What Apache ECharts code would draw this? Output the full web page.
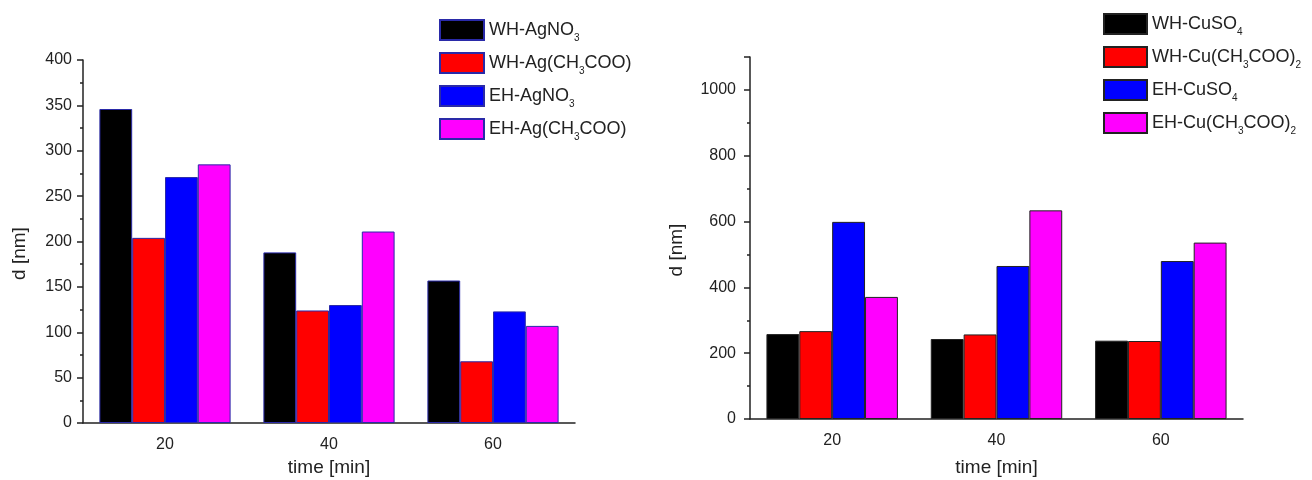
<!DOCTYPE html>
<html>
<head>
<meta charset="utf-8">
<script src="https://cdn.jsdelivr.net/npm/echarts@6/dist/echarts.min.js"></script>
<style>
  html, body { margin: 0; padding: 0; background: #fff; }
  #charts { width: 1312px; height: 480px; }
</style>
</head>
<body>
<div id="charts"></div>
<script>
  // categories (time, min)
  var times = ['20', '40', '60']

  // silver salts, d [nm]
  var agNames = ['WH-AgNO3', 'WH-Ag(CH3COO)', 'EH-AgNO3', 'EH-Ag(CH3COO)']
  var whAgNO3 = [346, 188, 157]
  var whAgAc = [204, 124, 68]
  var ehAgNO3 = [271, 130, 123]
  var ehAgAc = [285, 211, 107]

  // copper salts, d [nm]
  var cuNames = ['WH-CuSO4', 'WH-Cu(CH3COO)2', 'EH-CuSO4', 'EH-Cu(CH3COO)2']
  var whCuSO4 = [258, 243, 238]
  var whCuAc = [267, 257, 237]
  var ehCuSO4 = [599, 465, 480]
  var ehCuAc = [371, 634, 536]

  var colors = ['#000000', '#ff0000', '#0000ff', '#ff00ff']
  var font = 'Liberation Sans, Arial, sans-serif'
  var ink = '#222'

  // digits in formulas become subscripts
  function formula (name) {
    return '{n|' + name.replace(/(\d)/g, '}{s|$1}{n|') + '}'
  }

  var legendText = {
    fontFamily: font,
    rich: {
      n: { fontSize: 18, color: ink, fontFamily: font },
      s: { fontSize: 10, color: ink, fontFamily: font, padding: [16, 0, 0, 0] }
    }
  }

  function xAxes (gridIndex, nameGap) {
    return [
      {
        type: 'category', gridIndex: gridIndex, data: times,
        name: 'time [min]', nameLocation: 'middle', nameGap: nameGap,
        nameTextStyle: { fontSize: 19, color: ink, fontFamily: font },
        axisLine: { lineStyle: { color: ink, width: 1.5 } },
        axisTick: { alignWithLabel: true, length: 5, lineStyle: { color: ink, width: 1.5 } },
        axisLabel: { fontSize: 16, color: ink, fontFamily: font, margin: 14 }
      },
      {
        // short ticks at the band edges
        type: 'category', gridIndex: gridIndex, data: times,
        axisLine: { show: false },
        axisTick: { length: 3, lineStyle: { color: ink, width: 1.5 } },
        axisLabel: { show: false }
      }
    ]
  }

  function yAxis (gridIndex, max, interval, nameGap, margin) {
    return {
      type: 'value', gridIndex: gridIndex, min: 0, max: max, interval: interval,
      name: 'd [nm]', nameLocation: 'middle', nameGap: nameGap,
      nameTextStyle: { fontSize: 19, color: ink, fontFamily: font, padding: [0, 24, 0, 0] },
      axisLine: { show: true, lineStyle: { color: ink, width: 1.5 } },
      axisTick: { show: true, length: 6, lineStyle: { color: ink, width: 1.5 } },
      minorTick: { show: true, splitNumber: 2, length: 3, lineStyle: { color: ink, width: 1.5 } },
      axisLabel: {
        fontSize: 16, color: ink, fontFamily: font, margin: margin,
        showMaxLabel: max % interval === 0,
        formatter: function (v) { return String(v) }
      },
      splitLine: { show: false }
    }
  }

  function bars (names, data, xIndex, yIndex, border) {
    return names.map(function (name, i) {
      return {
        name: name, type: 'bar', xAxisIndex: xIndex, yAxisIndex: yIndex,
        data: data[i], barGap: '0%', barCategoryGap: '20%',
        itemStyle: { color: colors[i], borderColor: border, borderWidth: 1 }
      }
    })
  }

  var myChart = echarts.init(document.getElementById('charts'))
  var option = {
    animation: false,
    grid: [
      { left: 83, top: 60, width: 492, height: 363, outerBoundsMode: 'none' },
      { left: 750, top: 57, width: 493, height: 362, outerBoundsMode: 'none' }
    ],
    legend: [
      {
        data: agNames, orient: 'vertical', left: 439, top: 19, padding: 0,
        icon: 'rect', itemWidth: 44, itemHeight: 20, itemGap: 9,
        formatter: formula, textStyle: legendText
      },
      {
        data: cuNames, orient: 'vertical', left: 1103, top: 13, padding: 0,
        icon: 'rect', itemWidth: 43, itemHeight: 20, itemGap: 9,
        formatter: formula, textStyle: legendText
      }
    ],
    xAxis: xAxes(0, 35).concat(xAxes(1, 39)),
    yAxis: [
      yAxis(0, 400, 50, 54, 11),
      yAxis(1, 1100, 200, 64, 14)
    ],
    series: bars(agNames, [whAgNO3, whAgAc, ehAgNO3, ehAgAc], 0, 0, '#2a2aa8')
      .concat(bars(cuNames, [whCuSO4, whCuAc, ehCuSO4, ehCuAc], 2, 1, '#222'))
  }
  myChart.setOption(option)
</script>
</body>
</html>
